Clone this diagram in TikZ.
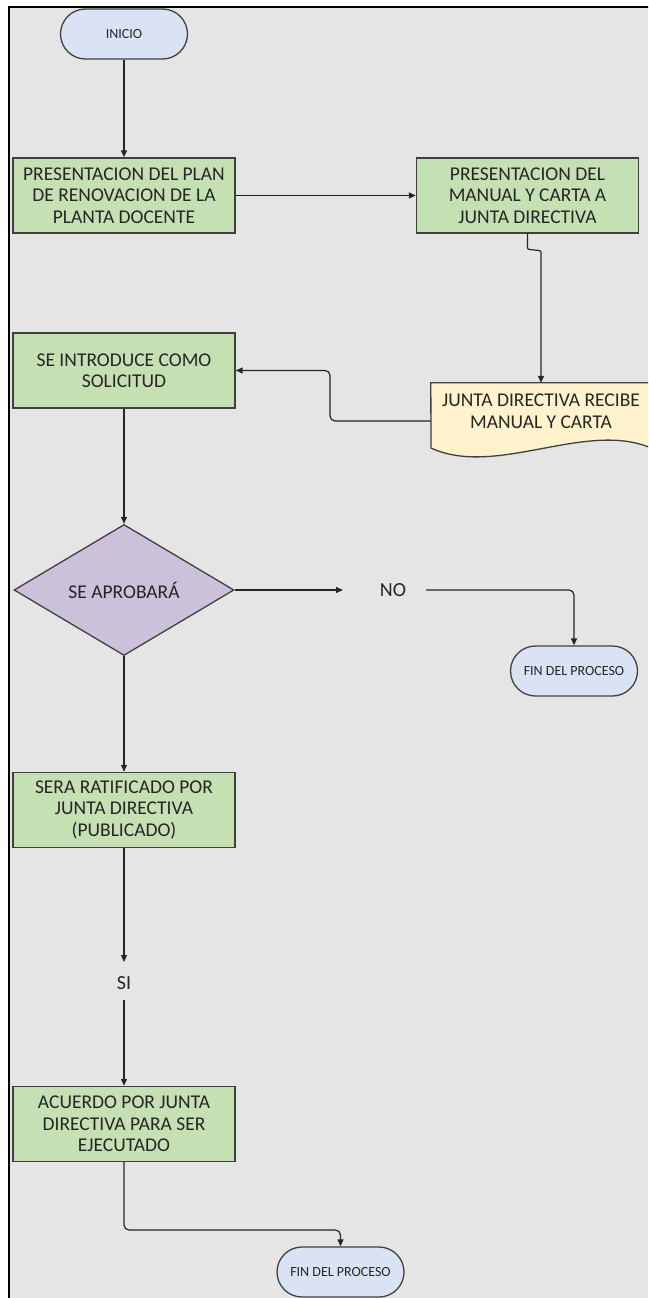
\documentclass[tikz,border=0pt]{standalone}
\usepackage{fontspec}
\setmainfont{Carlito}
\usetikzlibrary{arrows.meta,shapes.geometric}

\definecolor{canvas}{HTML}{E5E5E5}
\definecolor{procfill}{HTML}{C5E0B3}
\definecolor{termfill}{HTML}{DAE3F3}
\definecolor{decfill}{HTML}{CCC1DA}
\definecolor{docfill}{HTML}{FFF2CC}
\definecolor{edge}{HTML}{404040}
\definecolor{ink}{HTML}{262626}

\tikzset{
  procbox/.style={draw=edge, line width=1.4pt, fill=procfill,
    minimum width=222pt, minimum height=75pt, inner sep=0pt,
    align=center, text=ink, font=\fontsize{19.5}{21.5}\selectfont},
  term/.style={draw=edge, line width=1.3pt, fill=termfill,
    rounded corners=25pt, minimum width=127pt, minimum height=50pt,
    inner sep=0pt, text=ink, font=\fontsize{14}{16}\selectfont},
  decision/.style={diamond, draw=edge, line width=1.3pt, fill=decfill,
    minimum width=220pt, minimum height=131pt, inner sep=0pt,
    text=ink, font=\fontsize{19.5}{21.5}\selectfont},
  label/.style={text=ink, inner sep=0pt, font=\fontsize{20}{22}\selectfont},
  conn/.style={draw=ink, line width=1.2pt, rounded corners=5pt,
    -{Triangle[length=7pt,width=6pt]}},
  plain/.style={draw=ink, line width=1.2pt, rounded corners=5pt}
}

\begin{document}
\begin{tikzpicture}[x=1pt,y=-1pt]
  % page, canvas and frame
  \useasboundingbox (0,0) rectangle (648,1298);
  \clip (0,0) rectangle (648,1298);
  \fill[white] (0,0) rectangle (648,1298);
  \fill[canvas] (9,7) rectangle (648,1298);
  \draw[black, line width=2pt] (9,1299) -- (9,7) -- (649,7);

  % terminals and process boxes
  \node[term] (inicio) at (124,34) {INICIO};
  \node[procbox] (p1) at (124,195.5) {PRESENTACION DEL PLAN\\DE RENOVACION DE LA\\PLANTA DOCENTE};
  \node[procbox] (p2) at (527.5,195.5) {PRESENTACION DEL\\MANUAL Y CARTA A\\JUNTA DIRECTIVA};
  \node[procbox] (p3) at (124,370.5) {SE INTRODUCE COMO\\SOLICITUD};

  % document shape with a wavy bottom edge
  \node[minimum width=220pt, minimum height=76pt, inner sep=0pt] (doc) at (541,421) {};
  \draw[draw=edge, line width=1.3pt, fill=docfill]
    (doc.north west) -- (doc.north east) -- (651,448)
    .. controls (586,420) and (496,478) .. (431,448) -- cycle;
  \node[text=ink, align=center, font=\fontsize{19.5}{21.5}\selectfont] (doctext) at (541,411)
    {JUNTA DIRECTIVA RECIBE\\MANUAL Y CARTA};

  \node[decision] (dec) at (124,590) {SE APROBARÁ};
  \node[label] (no) at (393,590) {NO};
  \node[term] (fin1) at (574,671) {FIN DEL PROCESO};
  \node[procbox] (p4) at (124,810) {SERA RATIFICADO POR\\JUNTA DIRECTIVA\\(PUBLICADO)};
  \node[label] (si) at (124,983) {SI};
  \node[procbox] (p5) at (124,1124) {ACUERDO POR JUNTA\\DIRECTIVA PARA SER\\EJECUTADO};
  \node[term] (fin2) at (340.5,1272) {FIN DEL PROCESO};

  % free ends and bends of the connectors
  \coordinate (j1) at (527.5,243);
  \coordinate (j2) at (541,257);
  \coordinate (d1) at (330,421);
  \coordinate (d2) at (330,370.5);
  \coordinate (noin) at (343,590);
  \coordinate (noout) at (426,590);
  \coordinate (siin) at (124,962);
  \coordinate (siout) at (124,1000);
  \coordinate (k) at (124,1230);

  % connectors
  \draw[conn] (inicio) -- (p1);
  \draw[conn] (p1) -- (p2);
  \draw[conn] (p2.south) -- (j1) .. controls +(0,8) and +(0,-8) .. (j2) -- (doc.north);
  \draw[conn] (doc.west) -- (d1) -- (d2) -- (p3.east);
  \draw[conn] (p3) -- (dec);
  \draw[conn] (dec.east) -- (noin);
  \draw[conn] (noout) -| (fin1.north);
  \draw[conn] (dec) -- (p4);
  \draw[conn] (p4.south) -- (siin);
  \draw[conn] (siout) -- (p5.north);
  \draw[conn] (p5.south) -- (k) -| (fin2.north);
\end{tikzpicture}
\end{document}
